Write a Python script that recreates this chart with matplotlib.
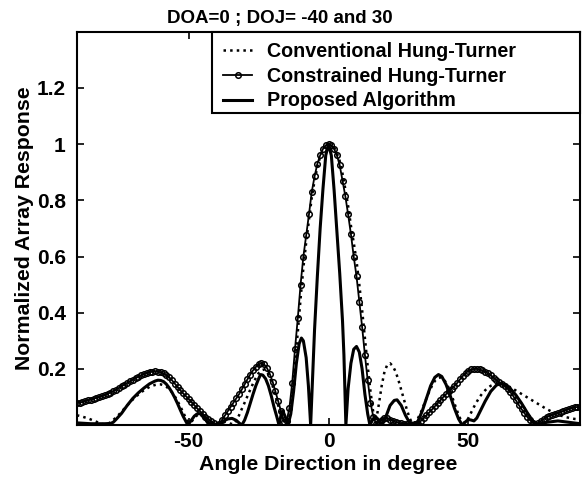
import numpy as np
import matplotlib.pyplot as plt
from matplotlib.patches import Rectangle

plt.rcParams['font.family'] = ['Liberation Sans', 'DejaVu Sans']
plt.rcParams['font.weight'] = 'bold'
plt.rcParams['axes.unicode_minus'] = False

angle = np.arange(-90, 91)

conventional = [
    0.035, 0.033, 0.030, 0.027, 0.024, 0.020, 0.016, 0.012, 0.008, 0.004,
    0.002, 0.004, 0.010, 0.018, 0.027, 0.037, 0.048, 0.059, 0.070, 0.081,
    0.091, 0.100, 0.109, 0.117, 0.124, 0.130, 0.136, 0.140, 0.143, 0.145,
    0.145, 0.142, 0.137, 0.128, 0.117, 0.103, 0.086, 0.067, 0.046, 0.025,
    0.008, 0.012, 0.025, 0.035, 0.040, 0.038, 0.030, 0.020, 0.010, 0.003,
    0.000, 0.005, 0.010, 0.012, 0.010, 0.005, 0.003, 0.015, 0.035, 0.058,
    0.080, 0.103, 0.126, 0.148, 0.168, 0.185, 0.195, 0.198, 0.190, 0.170,
    0.140, 0.105, 0.070, 0.040, 0.015, 0.010, 0.030, 0.110, 0.220, 0.330,
    0.450, 0.560, 0.650, 0.730, 0.810, 0.870, 0.920, 0.955, 0.980, 0.995,
    1.000, 0.998, 0.988, 0.968, 0.940, 0.895, 0.840, 0.780, 0.710, 0.650,
    0.585, 0.500, 0.410, 0.310, 0.210, 0.120, 0.045, 0.015, 0.075, 0.140,
    0.190, 0.215, 0.220, 0.210, 0.190, 0.160, 0.125, 0.090, 0.055, 0.025,
    0.005, 0.010, 0.025, 0.045, 0.070, 0.095, 0.120, 0.140, 0.157, 0.167,
    0.170, 0.165, 0.152, 0.132, 0.106, 0.078, 0.050, 0.025, 0.008, 0.010,
    0.025, 0.045, 0.065, 0.083, 0.100, 0.113, 0.124, 0.133, 0.140, 0.144,
    0.146, 0.147, 0.146, 0.144, 0.140, 0.135, 0.129, 0.123, 0.117, 0.111,
    0.105, 0.099, 0.093, 0.087, 0.081, 0.075, 0.069, 0.063, 0.057, 0.052,
    0.047, 0.042, 0.038, 0.034, 0.031, 0.028, 0.026, 0.024, 0.022, 0.021,
    0.020,
]

constrained = [
    0.078, 0.080, 0.082, 0.085, 0.088, 0.091, 0.094, 0.097, 0.100, 0.103,
    0.107, 0.111, 0.116, 0.121, 0.126, 0.132, 0.138, 0.144, 0.150, 0.156,
    0.162, 0.167, 0.172, 0.177, 0.181, 0.185, 0.188, 0.190, 0.191, 0.190,
    0.188, 0.184, 0.178, 0.170, 0.160, 0.148, 0.136, 0.124, 0.113, 0.103,
    0.093, 0.082, 0.071, 0.060, 0.050, 0.040, 0.030, 0.021, 0.013, 0.006,
    0.002, 0.005, 0.020, 0.035, 0.050, 0.065, 0.080, 0.095, 0.110, 0.127,
    0.145, 0.163, 0.180, 0.195, 0.207, 0.216, 0.220, 0.216, 0.203, 0.182,
    0.155, 0.120, 0.085, 0.050, 0.012, 0.015, 0.060, 0.150, 0.270, 0.380,
    0.500, 0.600, 0.675, 0.750, 0.830, 0.885, 0.930, 0.960, 0.983, 0.996,
    1.000, 0.996, 0.983, 0.960, 0.925, 0.870, 0.815, 0.750, 0.680, 0.600,
    0.530, 0.440, 0.350, 0.250, 0.160, 0.080, 0.030, 0.005, 0.010, 0.020,
    0.025, 0.025, 0.020, 0.015, 0.010, 0.008, 0.006, 0.005, 0.004, 0.003,
    0.002, 0.004, 0.005, 0.015, 0.025, 0.035, 0.045, 0.056, 0.067, 0.078,
    0.089, 0.100, 0.110, 0.120, 0.130, 0.140, 0.150, 0.163, 0.175, 0.185,
    0.193, 0.198, 0.200, 0.200, 0.198, 0.195, 0.190, 0.184, 0.177, 0.169,
    0.160, 0.152, 0.145, 0.138, 0.130, 0.118, 0.104, 0.088, 0.072, 0.057,
    0.043, 0.030, 0.018, 0.008, 0.002, 0.008, 0.015, 0.022, 0.028, 0.033,
    0.036, 0.039, 0.042, 0.046, 0.050, 0.054, 0.058, 0.061, 0.063, 0.065,
    0.065,
]

# proposed algorithm has narrow nulls, so its own angle list
proposed_deg = [
    -90, -85, -80, -78, -77, -76, -74, -72, -70, -68, -66, -64, -62, -61, -60,
    -59, -58, -57, -56, -55, -54, -53, -52, -51, -50.3, -49, -48, -47, -46, -45,
    -44, -43, -42, -41, -40, -39, -37.5, -36, -34.5, -33, -32, -31, -30, -29, -28,
    -27, -26, -25, -24.3, -23.5, -22.5, -21.5, -20.5, -19.5, -18.5, -17.7, -17,
    -16.3, -15.5, -14.5, -13.5, -12.5, -11.5, -10.5, -9.7, -9, -8, -7.2, -6.4,
    -5.5, -5, -4, -3, -2, -1, 0, 1, 2, 3, 4, 5, 5.5, 6.2, 7, 8, 9, 10, 11, 12, 13,
    14, 14.8, 15.8, 16.8, 17.8, 19, 20.5, 22, 23.5, 24.5, 26, 27.5, 29, 30.5, 32,
    33.5, 35, 36.5, 38, 39.3, 40.5, 42, 43.5, 45, 46.5, 47.8, 49, 50, 51, 52, 53,
    54, 56, 58, 60, 61.5, 63, 65, 67, 69, 71, 73, 74.5, 76, 78, 82, 86, 90,
]
proposed_val = [
    0.008, 0.005, 0.005, 0.006, 0.010, 0.020, 0.042, 0.070, 0.095, 0.115, 0.132,
    0.147, 0.157, 0.160, 0.159, 0.155, 0.146, 0.133, 0.117, 0.098, 0.077, 0.054,
    0.032, 0.013, 0.000, 0.018, 0.032, 0.040, 0.041, 0.034, 0.020, 0.005, 0.006,
    0.004, 0.000, 0.005, 0.015, 0.022, 0.024, 0.017, 0.008, 0.000, 0.018, 0.045,
    0.078, 0.110, 0.140, 0.165, 0.180, 0.178, 0.165, 0.140, 0.105, 0.065, 0.030,
    0.000, 0.035, 0.050, 0.030, 0.000, 0.040, 0.120, 0.220, 0.290, 0.310, 0.300,
    0.240, 0.140, 0.000, 0.220, 0.340, 0.530, 0.700, 0.840, 0.960, 1.000, 0.960,
    0.835, 0.690, 0.540, 0.370, 0.250, 0.000, 0.130, 0.220, 0.270, 0.280, 0.260,
    0.200, 0.110, 0.040, 0.000, 0.020, 0.030, 0.020, 0.000, 0.030, 0.070, 0.088,
    0.090, 0.070, 0.035, 0.008, 0.000, 0.015, 0.050, 0.095, 0.140, 0.170, 0.180,
    0.173, 0.145, 0.105, 0.060, 0.022, 0.000, 0.012, 0.020, 0.018, 0.015, 0.025,
    0.045, 0.085, 0.120, 0.142, 0.148, 0.145, 0.130, 0.107, 0.078, 0.045, 0.015,
    0.000, 0.005, 0.010, 0.015, 0.010, 0.005,
]

fig = plt.figure(figsize=(5.82, 4.82), dpi=100)
ax = fig.add_axes([0.132, 0.118, 0.865, 0.816])

ax.plot(angle, conventional, ':', color='black', lw=1.8,
        label='Conventional Hung-Turner')
ax.plot(angle, constrained, '-', color='black', lw=1.3, marker='o',
        ms=4, mfc='none', mew=1.1, label='Constrained Hung-Turner')
ax.plot(proposed_deg, proposed_val, '-', color='black', lw=2.2,
        label='Proposed Algorithm')

ax.set_xlim(-90, 90)
ax.set_ylim(0, 1.4)
ax.set_xticks([-50, 0, 50])
ax.set_yticks([0.2, 0.4, 0.6, 0.8, 1.0, 1.2])
ax.set_yticklabels(['0.2', '0.4', '0.6', '0.8', '1', '1.2'])
ax.tick_params(direction='in', top=True, right=True, length=5, width=1.2,
               labelsize=15)
ax.tick_params(axis='y', pad=8)
ax.tick_params(axis='x', pad=5)
for s in ax.spines.values():
    s.set_linewidth(1.5)

ax.set_title('DOA=0 ; DOJ= -40 and 30', fontsize=13.5, fontweight='bold',
             x=0.404, pad=6)
ax.set_xlabel('Angle Direction in degree', fontsize=15.3, fontweight='bold',
              labelpad=3)
ax.set_ylabel('Normalized Array Response', fontsize=15.3, fontweight='bold',
              labelpad=2)

# legend box spans wider than its text, as in the original
ax.add_patch(Rectangle((0.268, 0.794), 0.732, 0.206, transform=ax.transAxes,
                       facecolor='white', edgecolor='black', lw=1.5,
                       zorder=4, clip_on=False))
leg = ax.legend(loc='upper left', bbox_to_anchor=(0.29, 0.975),
                borderaxespad=0, frameon=False, fontsize=14.2,
                handlelength=1.5, handletextpad=0.76, labelspacing=0.3,
                numpoints=1, borderpad=0)
leg.set_zorder(5)

fig.savefig('out.png', dpi=100)
